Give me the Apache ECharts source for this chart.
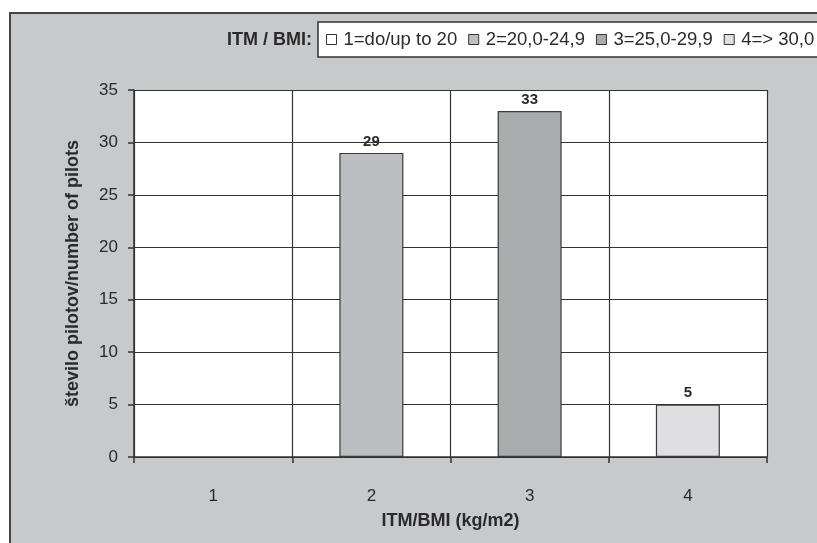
<!DOCTYPE html>
<html>
<head>
<meta charset="utf-8">
<script src="https://cdn.jsdelivr.net/npm/echarts@6/dist/echarts.min.js"></script>
<style>
  html, body { margin: 0; padding: 0; background: #ffffff; }
  #chart { width: 817px; height: 543px; }
</style>
</head>
<body>
<div id="chart"></div>
<script>
// BMI classes on the x axis and the number of pilots in each class
const categories = ['1', '2', '3', '4'];
const counts = [0, 29, 33, 5];
const classNames = ['1=do/up to 20', '2=20,0-24,9', '3=25,0-29,9', '4=> 30,0'];
const classColors = ['#ffffff', '#bdbec1', '#aaabaf', '#dfdfe1'];
const yTicks = { min: 0, max: 35, step: 5 };

const FONT = '"Liberation Sans", Arial, sans-serif';
const INK = '#2a2a2a';

// One series per class so each class gets its own legend entry;
// barGap -100% keeps every bar centred on its own category.
const series = classNames.map((name, i) => ({
  name: name,
  type: 'bar',
  barWidth: 64,
  barGap: '-100%',
  data: categories.map((c, j) => (j === i && counts[j] > 0 ? counts[j] : null)),
  itemStyle: { color: classColors[i], borderColor: '#3a3a3a', borderWidth: 1.2 },
  label: {
    show: true,
    position: 'top',
    distance: 4,
    fontFamily: FONT,
    fontSize: 15,
    fontWeight: 'bold',
    color: INK
  }
}));

const chart = echarts.init(document.getElementById('chart'), null, { renderer: 'canvas' });
chart.setOption({
  animation: false,
  backgroundColor: '#ffffff',
  textStyle: { fontFamily: FONT },
  graphic: [
    {
      type: 'rect', z: -10, silent: true,
      shape: { x: 10, y: 13, width: 830, height: 560 },
      style: { fill: '#c8c9cb', stroke: '#444444', lineWidth: 2 }
    },
    {
      type: 'rect', z: -5, silent: true,
      shape: { x: 318, y: 22, width: 520, height: 35 },
      style: { fill: '#ffffff', stroke: '#333333', lineWidth: 1.5 }
    },
    {
      type: 'text', silent: true,
      style: {
        x: 312, y: 40, text: 'ITM / BMI:',
        textAlign: 'right', textVerticalAlign: 'middle',
        fontFamily: FONT, fontSize: 18, fontWeight: 'bold', fill: INK
      }
    }
  ],
  legend: {
    left: 326,
    top: 30,
    width: 600,
    padding: 0,
    itemGap: 11,
    itemWidth: 10,
    itemHeight: 10,
    icon: 'rect',
    textStyle: { fontFamily: FONT, fontSize: 18.5, color: INK, padding: [0, 0, 0, 2] },
    itemStyle: { borderColor: '#333333', borderWidth: 1 },
    data: classNames
  },
  grid: { left: 134, top: 90, width: 633, height: 367, backgroundColor: '#ffffff', show: true, borderWidth: 0 },
  xAxis: {
    type: 'category',
    data: categories,
    boundaryGap: true,
    name: 'ITM/BMI (kg/m2)',
    nameLocation: 'middle',
    nameGap: 55,
    nameTextStyle: { fontFamily: FONT, fontSize: 18, fontWeight: 'bold', color: INK },
    axisLine: { show: true, lineStyle: { color: '#333333', width: 1.5 } },
    axisTick: { show: true, length: 6, alignWithLabel: false, lineStyle: { color: '#333333', width: 1.5 } },
    axisLabel: { margin: 31, fontFamily: FONT, fontSize: 17, color: INK },
    splitLine: { show: true, lineStyle: { color: '#333333', width: 1.2 } }
  },
  yAxis: {
    type: 'value',
    min: yTicks.min,
    max: yTicks.max,
    interval: yTicks.step,
    name: 'število pilotov/number of pilots',
    nameLocation: 'middle',
    nameGap: 52,
    nameTextStyle: { fontFamily: FONT, fontSize: 18, fontWeight: 'bold', color: INK },
    axisLine: { show: true, lineStyle: { color: '#333333', width: 1.5 } },
    axisTick: { show: true, length: 6, lineStyle: { color: '#333333', width: 1.5 } },
    axisLabel: { margin: 16, fontFamily: FONT, fontSize: 17, color: INK },
    splitLine: { show: true, lineStyle: { color: '#333333', width: 1.2 } }
  },
  series: series
});
</script>
</body>
</html>
